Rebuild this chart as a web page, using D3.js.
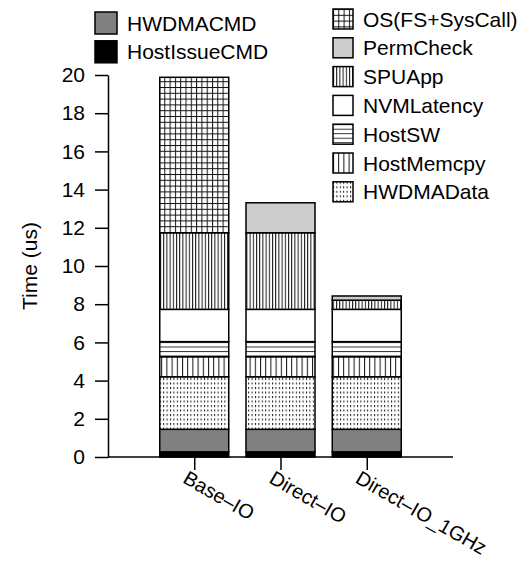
<!DOCTYPE html>
<html>
<head>
<meta charset="utf-8">
<script src="https://cdn.jsdelivr.net/npm/d3@7"></script>
<style>
  body{margin:0;background:#fff;}
  svg text{font-family:"Liberation Sans",Arial,Helvetica,sans-serif;}
</style>
</head>
<body>
<svg id="chart" width="527" height="562"></svg>
<script>
// 数据
var categories=["Base–IO","Direct–IO","Direct–IO_1GHz"];
var components=["HostIssueCMD","HWDMACMD","HWDMAData","HostMemcpy","HostSW","NVMLatency","SPUApp","PermCheck","OS(FS+SysCall)"];
var hostIssueCMD=[0.27,0.27,0.27];
var hwdmaCMD=[1.18,1.18,1.18];
var hwdmaData=[2.75,2.75,2.75];
var hostMemcpy=[1.05,1.05,1.05];
var hostSW=[0.79,0.79,0.79];
var nvmLatency=[1.69,1.69,1.69];
var spuApp=[4.01,4.01,0.48];
var permCheck=[0,1.57,0.22];
var osFsSysCall=[8.14,0,0];
var yTicks=[0,2,4,6,8,10,12,14,16,18,20];
var legendLeft=["HWDMACMD","HostIssueCMD"];
var legendRight=["OS(FS+SysCall)","PermCheck","SPUApp","NVMLatency","HostSW","HostMemcpy","HWDMAData"];

var series=[hostIssueCMD,hwdmaCMD,hwdmaData,hostMemcpy,hostSW,nvmLatency,spuApp,permCheck,osFsSysCall];

var svg=d3.select("#chart");
var FONT=21;

var x=d3.scalePoint().domain(categories).range([108,453]).padding(1);
var y=d3.scaleLinear().domain([0,20]).range([457,75]);
var barW=x.step()*0.8;

// 填充图案
var defs=svg.append("defs");
function pat(id,w,h,draw){
    var p=defs.append("pattern").attr("id",id).attr("patternUnits","userSpaceOnUse")
        .attr("width",w).attr("height",h);
    p.append("rect").attr("width",w).attr("height",h).attr("fill","#fff");
    draw(p);
}
pat("p-os",5.3,5.8,function(p){
    p.append("line").attr("x1",0.5).attr("x2",0.5).attr("y1",0).attr("y2",5.8).attr("stroke","#111").attr("stroke-width",1);
    p.append("line").attr("x1",0).attr("x2",5.3).attr("y1",0.5).attr("y2",0.5).attr("stroke","#111").attr("stroke-width",1);
});
pat("p-spu",3.2,10,function(p){
    p.append("line").attr("x1",0.5).attr("x2",0.5).attr("y1",0).attr("y2",10).attr("stroke","#111").attr("stroke-width",1);
});
pat("p-memcpy",5.2,10,function(p){
    p.append("line").attr("x1",0.5).attr("x2",0.5).attr("y1",0).attr("y2",10).attr("stroke","#111").attr("stroke-width",1);
});
pat("p-sw",10,4.5,function(p){
    p.append("line").attr("x1",0).attr("x2",10).attr("y1",0.5).attr("y2",0.5).attr("stroke","#333").attr("stroke-width",1);
});
pat("p-dma",3.4,4.5,function(p){
    p.append("rect").attr("x",0).attr("y",0).attr("width",1).attr("height",2).attr("fill","#111");
});

var fills={
    "HostIssueCMD":"#000",
    "HWDMACMD":"#808080",
    "HWDMAData":"url(#p-dma)",
    "HostMemcpy":"url(#p-memcpy)",
    "HostSW":"url(#p-sw)",
    "NVMLatency":"#fff",
    "SPUApp":"url(#p-spu)",
    "PermCheck":"#cccccc",
    "OS(FS+SysCall)":"url(#p-os)"
};

// 堆叠
var table=categories.map(function(c,i){
    var row={cat:c};
    components.forEach(function(k,j){row[k]=series[j][i];});
    return row;
});
var stacked=d3.stack().keys(components)(table);

var bars=svg.append("g").attr("class","bars");
stacked.forEach(function(layer){
    bars.selectAll(null).data(layer.filter(function(d){return d[1]-d[0]>0;}))
        .enter().append("rect")
        .attr("x",function(d){return x(d.data.cat)-barW/2;})
        .attr("y",function(d){return y(d[1]);})
        .attr("width",barW)
        .attr("height",function(d){return y(d[0])-y(d[1]);})
        .attr("fill",fills[layer.key])
        .attr("stroke","#000")
        .attr("stroke-width",1.5);
});

// 坐标轴
var yAxis=svg.append("g").attr("transform","translate(108,0)")
    .call(d3.axisLeft(y).tickValues(yTicks).tickSize(13).tickPadding(10).tickSizeOuter(0));
var xAxis=svg.append("g").attr("transform","translate(0,457)")
    .call(d3.axisBottom(x).tickSize(13).tickSizeOuter(0).tickFormat(""));
[yAxis,xAxis].forEach(function(a){
    a.select(".domain").attr("stroke","#000").attr("stroke-width",1.5);
    a.selectAll(".tick line").attr("stroke","#000").attr("stroke-width",1.5);
});
xAxis.select(".domain").attr("d","M108,0H453");
yAxis.selectAll("text").attr("font-size",FONT).attr("fill","#000")
    .attr("font-family","'Liberation Sans',Arial,sans-serif");

// x轴标签(旋转)
svg.append("g").selectAll("text").data(categories).enter().append("text")
    .attr("transform",function(d){return "translate("+(x(d)-5)+",469) rotate(30)";})
    .attr("dy","0.75em")
    .attr("font-size",20)
    .text(function(d){return d;});

svg.append("text")
    .attr("transform","translate(37,266) rotate(-90)")
    .attr("text-anchor","middle")
    .attr("font-size",FONT)
    .text("Time (us)");

// 图例
function legend(keys,x0,y0,sw){
    var g=svg.append("g").attr("class","legend");
    var items=g.selectAll("g").data(keys).enter().append("g")
        .attr("transform",function(d,i){return "translate("+x0+","+(y0+i*28.8)+")";});
    items.append("rect").attr("width",sw).attr("height",sw)
        .attr("fill",function(d){return fills[d];})
        .attr("stroke","#000").attr("stroke-width",1.5);
    items.append("text").attr("x",sw+10).attr("y",sw/2).attr("dy","0.36em")
        .attr("font-size",FONT).text(function(d){return d;});
}
legend(legendLeft,95,12,22);
legend(legendRight,333,9,20);
</script>
</body>
</html>
